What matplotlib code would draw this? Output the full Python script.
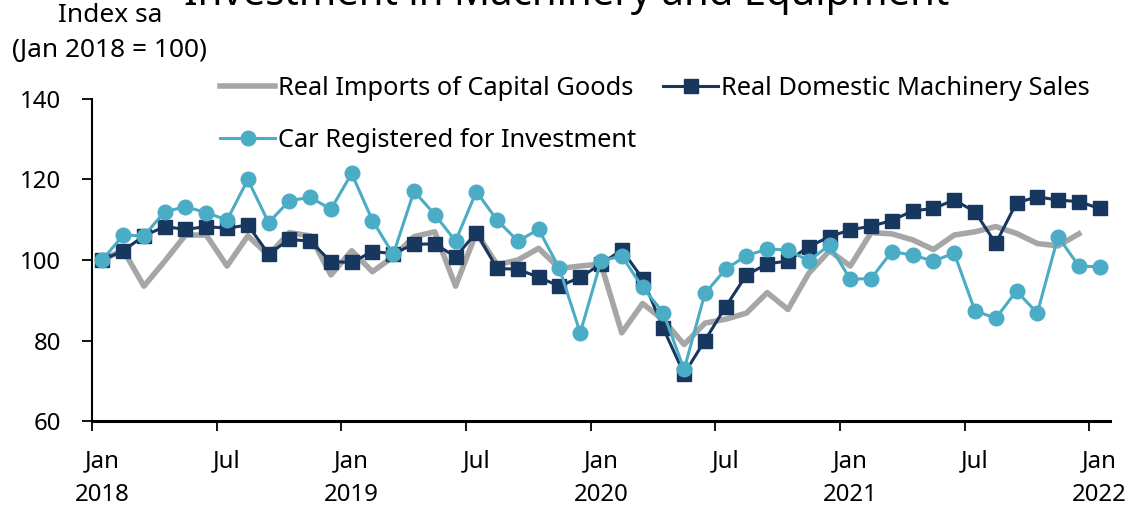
import matplotlib
matplotlib.use("Agg")
import matplotlib.pyplot as plt
import numpy as np

FONT = ['Noto Sans', 'DejaVu Sans']
plt.rcParams['font.family'] = FONT

months = list(range(49))  # Jan 2018 .. Jan 2022
tick_labels = ["Jan\n2018", "Jul", "Jan\n2019", "Jul", "Jan\n2020", "Jul", "Jan\n2021", "Jul", "Jan\n2022"]
tick_label_pos = [0, 6, 12, 18, 24, 30, 36, 42, 48]
y_ticks = [60, 80, 100, 120, 140]

imports = [100, 102.5, 93.5, 99.7, 106.2, 106.2, 98.5, 106.0, 101.2, 106.8, 106.0, 96.3,
           102.3, 97.1, 100.8, 105.8, 107.0, 93.5, 106.8, 98.8, 100.0, 102.9, 97.9, 98.5,
           99.0, 81.9, 89.2, 85.1, 79.0, 84.3, 85.3, 86.8, 91.9, 87.7, 96.7, 102.3,
           98.5, 106.8, 106.5, 105.0, 102.6, 106.2, 107.0, 108.3, 106.6, 104.1, 103.5, 106.5,
           np.nan]
machinery = [100, 102.3, 106.0, 108.3, 107.6, 108.3, 107.9, 108.7, 101.5, 105.1, 104.7, 99.6,
             99.4, 102.1, 101.6, 103.9, 104.0, 100.8, 106.8, 97.9, 97.7, 95.7, 93.5, 95.7,
             99.0, 102.5, 95.4, 83.0, 71.7, 80.0, 88.4, 96.3, 99.0, 99.8, 103.3, 105.8,
             107.5, 108.4, 109.8, 112.2, 112.8, 114.9, 112.0, 104.1, 114.2, 115.7, 114.9, 114.5,
             112.8]
cars = [100, 106.2, 106.0, 112.0, 113.2, 111.8, 109.9, 120.0, 109.3, 114.7, 115.6, 112.6,
        121.5, 109.8, 101.4, 117.1, 111.3, 104.7, 117.0, 109.9, 104.7, 107.6, 97.9, 81.9,
        99.75, 101.0, 93.2, 86.9, 72.8, 91.7, 97.7, 101.1, 102.7, 102.5, 99.8, 103.7,
        95.2, 95.4, 102.1, 101.2, 99.75, 101.7, 87.4, 85.5, 92.3, 86.8, 105.8, 98.5,
        98.3]

C_GRAY = "#A6A6A6"
C_NAVY = "#17375E"
C_CYAN = "#4BACC6"

W, H = 1132, 509
fig = plt.figure(figsize=(W/100, H/100), dpi=100)
renderer = fig.canvas.get_renderer()


def fit_size(s, target_px):
    t = fig.text(0, 0, s, fontsize=20)
    w = t.get_window_extent(renderer).width
    t.remove()
    return 20 * target_px / w


fs_title = fit_size("Investment in Machinery and Equipment", 765)
fs_note = fit_size("(Jan 2018 = 100)", 195)
fs_leg = fit_size("Real Imports of Capital Goods", 356)
fs_tick = fit_size("2018", 55)

ax = fig.add_axes([92/W, 1-421/H, (1110-92)/W, (421-99)/H])

l1, = ax.plot(months, imports, color=C_GRAY, lw=4.0, zorder=2,
              label="Real Imports of Capital Goods")
l2, = ax.plot(months, machinery, color=C_NAVY, lw=2.2, marker='s', ms=9.5, zorder=3,
              label="Real Domestic Machinery Sales")
l3, = ax.plot(months, cars, color=C_CYAN, lw=2.2, marker='o', ms=10.5, zorder=4,
              label="Car Registered for Investment")

ax.set_xlim(-0.5, 48.5)
ax.set_ylim(60, 140)
ax.set_yticks(y_ticks)
ax.tick_params(axis='y', direction='out', length=7.2, width=1.3, pad=15, labelsize=fs_tick)

ax.set_xticks(np.arange(-0.5, 48, 6))
ax.set_xticklabels([])
ax.set_xticks(tick_label_pos, minor=True)
ax.set_xticklabels(tick_labels, minor=True, fontsize=fs_tick, linespacing=1.55)
ax.tick_params(axis='x', which='major', direction='out', length=7.2, width=1.3)
ax.tick_params(axis='x', which='minor', length=0, pad=20)

for s in ['top', 'right']:
    ax.spines[s].set_visible(False)
ax.spines['left'].set_linewidth(1.5)
ax.spines['bottom'].set_linewidth(2.2)

fig.text(567/W, 1-5/H, "Investment in Machinery and Equipment", ha='center', va='baseline',
         fontsize=fs_title)
fig.text(110/W, 1-16/H, "Index sa", ha='center', va='center', fontsize=fs_note)
fig.text(110/W, 1-51/H, "(Jan 2018 = 100)", ha='center', va='center', fontsize=fs_note)

fpx = fs_leg * 100 / 72
fig.legend(handles=[l1, l3, l2], ncol=2, loc='upper left',
           bbox_to_anchor=(220/W, 1-76/H), frameon=False, fontsize=fs_leg,
           handlelength=55/fpx, handletextpad=3/fpx, columnspacing=27/fpx,
           labelspacing=0.85 + 5/fpx, borderpad=0, borderaxespad=0)

fig.savefig("out.png", dpi=100)
